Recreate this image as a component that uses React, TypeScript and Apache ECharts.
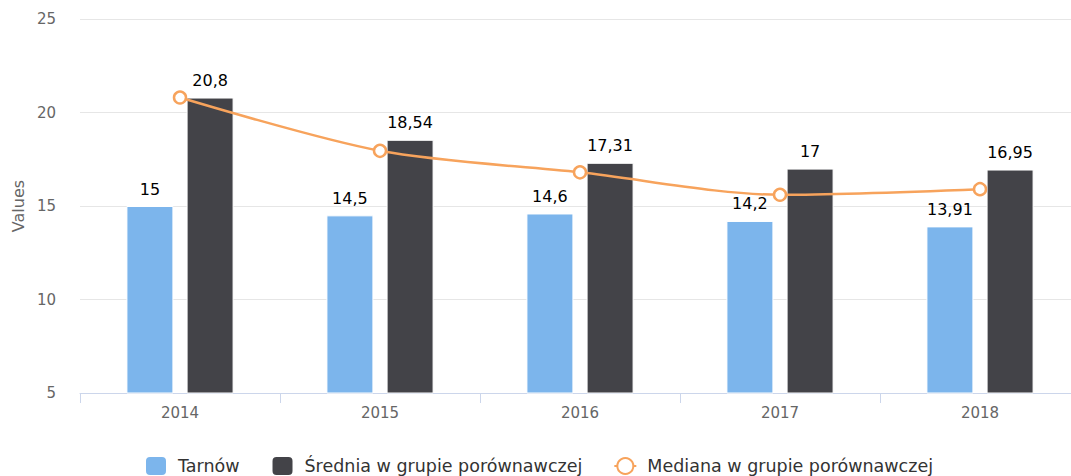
import React, { useEffect, useRef } from "react";
import * as echarts from "echarts";

const categories = ["2014", "2015", "2016", "2017", "2018"];
const tarnow = [15, 14.5, 14.6, 14.2, 13.91];
const srednia = [20.8, 18.54, 17.31, 17, 16.95];
const mediana = [20.8, 17.95, 16.8, 15.6, 15.9];
const yTicks = { min: 5, max: 25, interval: 5 };

const FONT = "DejaVu Sans";
const fmt = (v: number) => String(v).replace(".", ",");

export default function App() {
  const ref = useRef<HTMLDivElement>(null);
  useEffect(() => {
    if (!ref.current) return;
    const chart = echarts.init(ref.current, undefined, { renderer: "svg" });
    const labelCfg = {
      show: true,
      position: "top" as const,
      distance: 9,
      color: "#000",
      fontSize: 16,
      fontFamily: FONT,
      formatter: (p: any) => fmt(p.value),
    };
    chart.setOption({
      animation: false,
      textStyle: { fontFamily: FONT },
      grid: { left: 80, right: 10, top: 19, bottom: 83 },
      legend: {
        left: 144,
        top: 455,
        padding: 0,
        itemWidth: 22,
        itemHeight: 20,
        itemGap: 31,
        textStyle: { fontSize: 17.5, color: "#333", fontFamily: FONT, padding: [0, 0, 0, 6] },
        data: [
          { name: "Tarnów" },
          { name: "Średnia w grupie porównawczej" },
          { name: "Mediana w grupie porównawczej" },
        ],
      },
      xAxis: {
        type: "category",
        data: categories,
        boundaryGap: true,
        axisLine: { lineStyle: { color: "#ccd6eb", width: 1 } },
        axisTick: { show: true, alignWithLabel: false, length: 10, lineStyle: { color: "#ccd6eb" } },
        axisLabel: { color: "#666", fontSize: 15, margin: 12, fontFamily: FONT },
      },
      yAxis: {
        type: "value",
        min: yTicks.min,
        max: yTicks.max,
        interval: yTicks.interval,
        name: "Values",
        nameLocation: "middle",
        nameGap: 54,
        nameRotate: 90,
        nameTextStyle: { color: "#666", fontSize: 16, fontFamily: FONT },
        axisLine: { show: false },
        axisTick: { show: false },
        axisLabel: { color: "#666", fontSize: 15, margin: 24, fontFamily: FONT },
        splitLine: { lineStyle: { color: "#e6e6e6", width: 1 } },
      },
      series: [
        {
          name: "Tarnów",
          type: "bar",
          data: tarnow,
          barWidth: 47,
          barGap: "28%",
          itemStyle: { color: "#7cb5ec", borderColor: "#fff", borderWidth: 1 },
          label: labelCfg,
        },
        {
          name: "Średnia w grupie porównawczej",
          type: "bar",
          data: srednia,
          barWidth: 47,
          barGap: "28%",
          itemStyle: { color: "#434348", borderColor: "#fff", borderWidth: 1 },
          label: labelCfg,
        },
        {
          name: "Mediana w grupie porównawczej",
          type: "line",
          data: mediana,
          smooth: 0.3,
          z: 5,
          symbol: "circle",
          symbolSize: 12,
          lineStyle: { color: "#f7a35c", width: 2.5 },
          itemStyle: { color: "#fff", borderColor: "#f7a35c", borderWidth: 2.5 },
          label: { show: false },
        },
      ],
    });
    return () => chart.dispose();
  }, []);
  return (
    <div style={{ position: "fixed", left: 0, top: 0, width: 1071, height: 476, overflow: "hidden", background: "#fff" }}>
      <div ref={ref} style={{ width: 1090, height: 476 }} />
    </div>
  );
}
